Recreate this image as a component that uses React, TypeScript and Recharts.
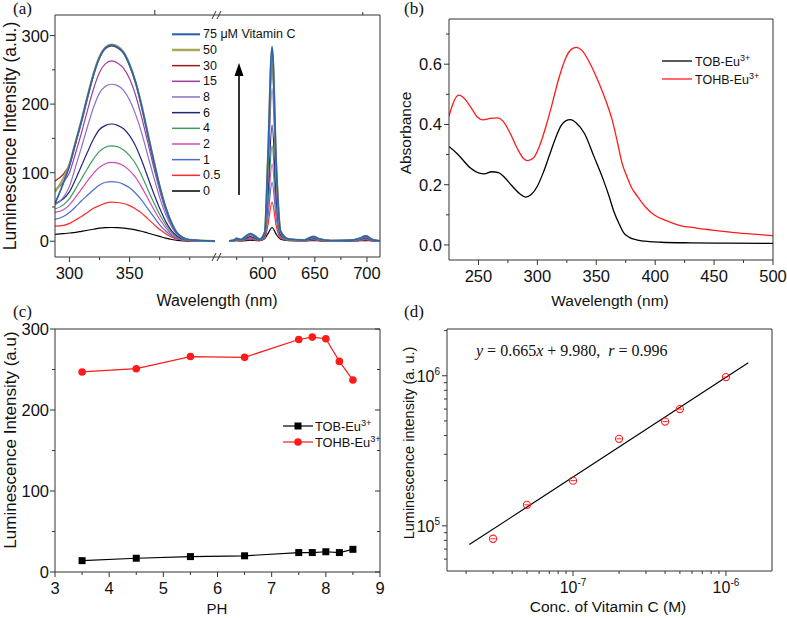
import React from 'react';
import { LineChart, ComposedChart, Line, Scatter, XAxis, YAxis } from 'recharts';

const SANS = '"Liberation Sans", Arial, Helvetica, sans-serif';
const SERIF = '"Liberation Serif", "Times New Roman", serif';
const AXIS = '#333';
const INK = '#111';

// ---------- (a) luminescence spectra, broken wavelength axis ----------
const A_LEFT_NM = [288, 295, 300, 305, 310, 315, 320, 325, 330, 335, 340, 345, 350, 355, 360, 365, 370, 375, 380, 385, 390, 400, 421];
const A_RIGHT_NM = [568, 572, 575, 579, 584, 588, 592, 597, 602, 605, 609, 613, 617, 625, 640, 645, 649, 653, 665, 685, 693, 699, 705, 712];

const EM_0_L = [10, 11, 12, 13, 14.5, 16, 17.5, 19, 19.8, 20, 19.8, 19.2, 18, 16.5, 14.5, 12, 9.5, 7, 4.5, 2.5, 1.2, 0.3, 0.2];
const EM_05_L = [22, 23, 26, 31, 36, 42, 48, 52, 55.5, 57, 56.5, 55, 52, 47, 41, 33, 25, 17, 11, 6, 3, 0.7, 0.3];
const EM_1_L = [32, 36, 42, 50, 59, 67, 75, 82, 86, 87, 86, 83, 78, 70, 60, 48, 36, 24, 15, 8, 3.5, 0.8, 0.3];
const EM_2_L = [42, 46, 53, 64, 76, 88, 99, 108, 113, 115, 114, 110, 103, 93, 79, 63, 47, 32, 20, 10, 4.6, 1, 0.3];
const EM_4_L = [47, 53, 62, 76, 91, 106, 120, 131, 137, 139, 138, 133, 125, 113, 96, 76, 57, 39, 24, 12.5, 5.5, 1.1, 0.3];
const EM_6_L = [55, 62, 72, 90, 110, 130, 149, 163, 169, 171, 169, 164, 154, 139, 118, 94, 70, 48, 29, 15, 7, 1.4, 0.3];
const EM_8_L = [53, 64, 80, 108, 137, 167, 195, 216, 226, 229, 227, 220, 206, 185, 158, 126, 94, 64, 39, 21, 9, 1.8, 0.3];
const EM_15_L = [75, 86, 100, 128, 158, 191, 222, 246, 259, 263, 260, 252, 237, 213, 181, 145, 108, 74, 45, 24, 10, 2, 0.3];
const EM_30_L = [88, 98, 112, 142, 174, 209, 242, 267, 281, 285, 282, 274, 256, 231, 197, 157, 117, 80, 48, 26, 11, 2, 0.3];
const EM_50_L = [72, 92, 112, 144, 176, 211, 244, 269, 283, 287, 284, 276, 258, 232, 198, 158, 118, 80, 49, 26, 11, 2, 0.3];
const EM_75_L = [55, 85, 110, 143, 175, 210, 243, 268, 282, 286, 283, 275, 257, 232, 197, 157, 117, 80, 49, 26, 11, 2, 0.3];

const EM_0_R = [0.3, 0.5, 0.7, 0.5, 1, 1.7, 1.1, 0.8, 4, 11, 20, 10, 3, 1, 0.5, 0.8, 0.9, 0.7, 0.3, 0.4, 0.7, 1, 0.5, 0.3];
const EM_05_R = [0.3, 0.6, 1.2, 0.8, 1.9, 3, 2, 1, 4.3, 24, 57, 22, 4, 1.2, 0.6, 1.4, 1.8, 1.2, 0.4, 0.6, 1.2, 2, 0.8, 0.3];
const EM_1_R = [0.3, 0.7, 1.5, 1, 2.6, 4, 2.8, 1.3, 5.4, 36, 86, 34, 5.3, 1.5, 0.8, 1.9, 2.4, 1.6, 0.5, 0.7, 1.6, 2.7, 1, 0.3];
const EM_2_R = [0.4, 0.8, 1.9, 1.2, 3.2, 5, 3.5, 1.5, 6.5, 47, 113, 44, 6.6, 1.8, 0.9, 2.3, 3, 1.9, 0.6, 0.8, 2, 3.3, 1.2, 0.4];
const EM_4_R = [0.4, 0.9, 2.2, 1.4, 3.8, 5.9, 4.2, 1.8, 7.6, 58, 139, 54, 8, 2, 1, 2.7, 3.6, 2.3, 0.7, 0.9, 2.3, 4, 1.4, 0.4];
const EM_6_R = [0.4, 1, 2.5, 1.6, 4.5, 6.9, 5, 2, 8.8, 71, 169, 66, 9.5, 2.3, 1.1, 3.2, 4.2, 2.7, 0.8, 1, 2.7, 4.7, 1.6, 0.4];
const EM_8_R = [0.5, 1.1, 3.2, 2, 5.8, 8.8, 6.5, 2.5, 11, 94, 223, 87, 12, 2.7, 1.3, 4, 5.4, 3.3, 0.9, 1.2, 3.4, 6, 2, 0.5];
const EM_15_R = [0.5, 1.2, 3.6, 2.2, 6.8, 10, 7.6, 2.8, 12.5, 110, 262, 102, 14, 3, 1.5, 4.7, 6.3, 3.8, 1, 1.3, 3.9, 7, 2.3, 0.5];
const EM_30_R = [0.5, 1.2, 3.6, 2.2, 6.9, 10.2, 7.7, 2.8, 12.6, 111, 265, 103, 14, 3, 1.5, 4.7, 6.3, 3.8, 1, 1.3, 3.9, 7.1, 2.3, 0.5];
const EM_50_R = [0.5, 1.2, 3.9, 2.3, 7.2, 10.8, 8.1, 3, 13.2, 118, 280, 109, 15, 3, 1.5, 5, 6.7, 4, 1, 1.4, 4.1, 7.5, 2.4, 0.5];
const EM_75_R = [0.5, 1.2, 4, 2.3, 7.3, 11, 8.2, 3, 13.4, 120, 284, 110, 15.2, 3, 1.5, 5, 6.8, 4, 1, 1.4, 4.2, 7.6, 2.4, 0.5];

const CONC_LABELS = ['0', '0.5', '1', '2', '4', '6', '8', '15', '30', '50', '75'];
const CONC_COLORS = ['#000000', '#ff2a2a', '#4a6fd0', '#d04cb4', '#3c9e5e', '#24247a', '#8a6fc4', '#a03ca0', '#9b1b1b', '#a8a85a', '#2e64ac'];
const CONC_WIDTHS = [1.2, 1.2, 1.2, 1.2, 1.2, 1.2, 1.2, 1.2, 1.2, 2.2, 1.8];
const EM_LEFT = [EM_0_L, EM_05_L, EM_1_L, EM_2_L, EM_4_L, EM_6_L, EM_8_L, EM_15_L, EM_30_L, EM_50_L, EM_75_L];
const EM_RIGHT = [EM_0_R, EM_05_R, EM_1_R, EM_2_R, EM_4_R, EM_6_R, EM_8_R, EM_15_R, EM_30_R, EM_50_R, EM_75_R];

const A_X_MAJOR = [300, 350, 600, 650, 700];
const A_X_MINOR = [325, 375, 400, 575, 625, 675];
const A_Y_MAJOR = [0, 100, 200, 300];
const A_Y_TICKS = [0, 50, 100, 150, 200, 250, 300];

// broken axis: two wavelength windows glued side by side
const SEG_L = [288, 421];
const SEG_R = [560, 712.5];
const W_L = 160;
const GAP = 6;
const W_R = 159;
const A_SPAN = W_L + GAP + W_R;
const toPos = (nm: number) =>
  nm <= SEG_L[1]
    ? ((nm - SEG_L[0]) / (SEG_L[1] - SEG_L[0])) * W_L
    : W_L + GAP + ((nm - SEG_R[0]) / (SEG_R[1] - SEG_R[0])) * W_R;
const fromPos = (p: number) =>
  p <= W_L
    ? SEG_L[0] + (p / W_L) * (SEG_L[1] - SEG_L[0])
    : SEG_R[0] + ((p - W_L - GAP) / W_R) * (SEG_R[1] - SEG_R[0]);

const rowFrom = (pos: number, pick: (s: number) => number | null) => {
  const r: Record<string, number | null> = { pos };
  CONC_LABELS.forEach((_, k) => (r['c' + k] = pick(k)));
  return r;
};
const aRows = [
  ...A_LEFT_NM.map((nm, i) => rowFrom(toPos(nm), (k) => EM_LEFT[k][i])),
  rowFrom(W_L + GAP / 2, () => null),
  ...A_RIGHT_NM.map((nm, i) => rowFrom(toPos(nm), (k) => EM_RIGHT[k][i])),
];

// ---------- (b) absorbance ----------
const TOB_NM = [225, 232, 243, 250, 255, 261, 267, 272, 278, 285, 290, 295, 300, 305, 310, 315, 320, 324, 328, 333, 340, 348, 356, 361, 365, 370, 373, 378, 385, 395, 405, 430, 460, 500];
const TOB_ABS = [0.327, 0.303, 0.256, 0.239, 0.236, 0.243, 0.24, 0.225, 0.198, 0.17, 0.159, 0.168, 0.195, 0.24, 0.295, 0.35, 0.395, 0.412, 0.416, 0.405, 0.37, 0.294, 0.216, 0.16, 0.11, 0.065, 0.042, 0.025, 0.016, 0.011, 0.009, 0.007, 0.006, 0.005];
const TOHB_NM = [225, 229, 233, 237, 243, 249, 254, 260, 266, 271, 277, 283, 288, 292, 297, 302, 307, 312, 318, 324, 329, 333, 338, 345, 352, 358, 363.5, 368, 372, 376, 380, 385, 392, 399, 410, 419, 435, 447, 470, 489, 500];
const TOHB_ABS = [0.427, 0.475, 0.497, 0.49, 0.46, 0.425, 0.415, 0.42, 0.422, 0.41, 0.37, 0.32, 0.288, 0.28, 0.29, 0.33, 0.39, 0.46, 0.55, 0.62, 0.65, 0.656, 0.645, 0.6, 0.54, 0.48, 0.415, 0.34, 0.27, 0.227, 0.19, 0.161, 0.125, 0.1, 0.08, 0.067, 0.056, 0.05, 0.04, 0.034, 0.031];
const B_X_TICKS = [250, 275, 300, 325, 350, 375, 400, 425, 450, 475, 500];
const B_X_MAJOR = [250, 300, 350, 400, 450, 500];
const B_Y_TICKS = [0, 0.1, 0.2, 0.3, 0.4, 0.5, 0.6, 0.7];
const B_Y_MAJOR = [0, 0.2, 0.4, 0.6];

const tobRows = TOB_NM.map((nm, i) => ({ nm, a: TOB_ABS[i] }));
const tohbRows = TOHB_NM.map((nm, i) => ({ nm, a: TOHB_ABS[i] }));

// ---------- (c) pH dependence ----------
const PH = [3.5, 4.5, 5.5, 6.5, 7.5, 7.75, 8, 8.25, 8.5];
const TOB_LUM = [14, 17, 19, 20, 24, 24, 25, 24, 28];
const TOHB_LUM = [247, 251, 266, 265, 287, 290, 288, 260, 237];
const C_X_TICKS = [3, 3.5, 4, 4.5, 5, 5.5, 6, 6.5, 7, 7.5, 8, 8.5, 9];
const C_X_MAJOR = [3, 4, 5, 6, 7, 8, 9];
const C_Y_TICKS = [0, 50, 100, 150, 200, 250, 300];
const C_Y_MAJOR = [0, 100, 200, 300];
const phRows = PH.map((ph, i) => ({ ph, tob: TOB_LUM[i], tohb: TOHB_LUM[i] }));

// ---------- (d) calibration, log-log ----------
const VC_CONC = [3e-8, 5e-8, 1e-7, 2e-7, 4e-7, 5e-7, 1e-6];
const VC_LUM = [8.2e4, 1.38e5, 2.0e5, 3.8e5, 4.95e5, 6.0e5, 9.8e5];
const FIT_CONC = [2.1e-8, 1.4e-6];
const FIT_LUM = [7.5e4, 1.22e6];
const D_X_TICKS = [2e-8, 3e-8, 4e-8, 5e-8, 6e-8, 7e-8, 8e-8, 9e-8, 1e-7, 2e-7, 3e-7, 4e-7, 5e-7, 6e-7, 7e-7, 8e-7, 9e-7, 1e-6];
const D_X_MAJOR = [1e-7, 1e-6];
const D_Y_TICKS = [6e4, 7e4, 8e4, 9e4, 1e5, 2e5, 3e5, 4e5, 5e5, 6e5, 7e5, 8e5, 9e5, 1e6, 2e6];
const D_Y_MAJOR = [1e5, 1e6];
const vcRows = VC_CONC.map((c, i) => ({ c, i: VC_LUM[i] }));
const fitRows = FIT_CONC.map((c, i) => ({ c, i: FIT_LUM[i] }));

// ---------- tick helper: major/minor ticks with labels ----------
type Side = 'bottom' | 'top' | 'left' | 'right';
function ticker(
  side: Side,
  majors: number[],
  opts: { fmt?: (v: number) => React.ReactNode; inward?: boolean; font?: number; gap?: number } = {},
) {
  const { fmt, inward = false, font = 16.5, gap } = opts;
  return (p: any) => {
    const { x, y, payload } = p;
    const v = payload.value as number;
    const major = majors.some((m) => Math.abs(m - v) <= Math.max(Math.abs(m), Math.abs(v)) * 1e-6);
    const len = major ? 5 : 3;
    const d = inward ? -1 : 1;
    let x2 = x;
    let y2 = y;
    if (side === 'bottom') y2 = y + d * len;
    if (side === 'top') y2 = y - d * len;
    if (side === 'left') x2 = x - d * len;
    if (side === 'right') x2 = x + d * len;
    let label: React.ReactNode = null;
    if (major && fmt) {
      const t = { fontFamily: SANS, fontSize: font, fill: INK };
      if (side === 'bottom')
        label = (
          <text x={x} y={y + (gap ?? 22)} textAnchor="middle" {...t}>
            {fmt(v)}
          </text>
        );
      if (side === 'left')
        label = (
          <text x={x - (gap ?? 6)} y={y + 6} textAnchor="end" {...t}>
            {fmt(v)}
          </text>
        );
    }
    return (
      <g>
        <line x1={x} y1={y} x2={x2} y2={y2} stroke={AXIS} strokeWidth={1} />
        {label}
      </g>
    );
  };
}

const pow10 = (v: number) => (
  <>
    10
    <tspan dy={-7} fontSize={10}>
      {Math.round(Math.log10(v))}
    </tspan>
  </>
);

// axes get 1px of room (a 0-sized axis is not drawn); margins absorb it
const axisBase = {
  type: 'number' as const,
  allowDataOverflow: true,
  interval: 0 as const,
  tickSize: 0,
  tickMargin: 0,
  tickLine: false,
  axisLine: { stroke: AXIS, strokeWidth: 1 },
};

const sup = (base: string, s: string, fs: number) => (
  <>
    {base}
    <tspan dy={-5} fontSize={fs * 0.72}>
      {s}
    </tspan>
  </>
);

export default function App() {
  const aMajorPos = A_X_MAJOR.map(toPos);
  const aTicks = [...A_X_MAJOR, ...A_X_MINOR].map(toPos).sort((m, n) => m - n);
  const legendTop = 34.3;
  const legendStep = 15.67;
  const legendOrder = [...CONC_LABELS.keys()].reverse();

  return (
    <div style={{ position: 'absolute', left: 0, top: 0, width: 787, height: 618, background: '#fff' }}>
      {/* (a) */}
      <div style={{ position: 'absolute', left: 0, top: 0 }}>
        <LineChart width={393} height={300} data={aRows} margin={{ top: 14, right: 12, bottom: 42, left: 54 }}>
          <XAxis
            {...axisBase}
            dataKey="pos"
            domain={[0, A_SPAN]}
            ticks={aTicks}
            height={1}
            tick={ticker('bottom', aMajorPos, { fmt: (v) => Math.round(fromPos(v)) })}
          />
          <XAxis
            {...axisBase}
            xAxisId="top"
            orientation="top"
            domain={[0, A_SPAN]}
            ticks={aTicks}
            height={1}
            tick={ticker('top', aMajorPos)}
          />
          <YAxis {...axisBase} domain={[-23, 330]} ticks={A_Y_TICKS} width={1} tick={ticker('left', A_Y_MAJOR, { fmt: (v) => v })} />
          <YAxis {...axisBase} yAxisId="right" orientation="right" domain={[-23, 330]} width={1} tick={false} />
          {CONC_LABELS.map((lab, k) => (
            <Line
              key={lab}
              type="monotone"
              dataKey={'c' + k}
              stroke={CONC_COLORS[k]}
              strokeWidth={CONC_WIDTHS[k]}
              dot={false}
              connectNulls={false}
              isAnimationActive={false}
            />
          ))}
        </LineChart>
      </div>

      {/* (b) */}
      <div style={{ position: 'absolute', left: 393, top: 0 }}>
        <LineChart width={394} height={300} margin={{ top: 18, right: 13, bottom: 39, left: 55 }}>
          <XAxis
            {...axisBase}
            dataKey="nm"
            domain={[225, 500]}
            ticks={B_X_TICKS}
            height={1}
            tick={ticker('bottom', B_X_MAJOR, { fmt: (v) => v })}
          />
          <XAxis {...axisBase} xAxisId="top" orientation="top" domain={[225, 500]} height={1} tick={false} />
          <YAxis
            {...axisBase}
            domain={[-0.05, 0.75]}
            ticks={B_Y_TICKS}
            width={1}
            tick={ticker('left', B_Y_MAJOR, { fmt: (v) => v.toFixed(1), gap: 7 })}
          />
          <YAxis {...axisBase} yAxisId="right" orientation="right" domain={[-0.05, 0.75]} width={1} tick={false} />
          <Line data={tobRows} type="monotone" dataKey="a" stroke="#000" strokeWidth={1.3} dot={false} isAnimationActive={false} />
          <Line data={tohbRows} type="monotone" dataKey="a" stroke="#ff1a1a" strokeWidth={1.3} dot={false} isAnimationActive={false} />
        </LineChart>
      </div>

      {/* (c) */}
      <div style={{ position: 'absolute', left: 0, top: 300 }}>
        <LineChart width={393} height={318} data={phRows} margin={{ top: 28, right: 12, bottom: 45, left: 54 }}>
          <XAxis
            {...axisBase}
            dataKey="ph"
            domain={[3, 9]}
            ticks={C_X_TICKS}
            height={1}
            tick={ticker('bottom', C_X_MAJOR, { fmt: (v) => v })}
          />
          <XAxis {...axisBase} xAxisId="top" orientation="top" domain={[3, 9]} height={1} tick={false} />
          <YAxis {...axisBase} domain={[0, 300]} ticks={C_Y_TICKS} width={1} tick={ticker('left', C_Y_MAJOR, { fmt: (v) => v })} />
          <YAxis
            {...axisBase}
            yAxisId="right"
            orientation="right"
            domain={[0, 300]}
            ticks={C_Y_TICKS}
            width={1}
            tick={ticker('right', C_Y_MAJOR, { inward: true })}
          />
          <Line
            type="linear"
            dataKey="tob"
            stroke="#000"
            strokeWidth={1.2}
            isAnimationActive={false}
            dot={(p: any) => <rect key={p.index} x={p.cx - 3.5} y={p.cy - 3.5} width={7} height={7} fill="#000" />}
          />
          <Line
            type="linear"
            dataKey="tohb"
            stroke="#ff1a1a"
            strokeWidth={1.2}
            isAnimationActive={false}
            dot={(p: any) => <circle key={p.index} cx={p.cx} cy={p.cy} r={3.8} fill="#ff1a1a" />}
          />
        </LineChart>
      </div>

      {/* (d) */}
      <div style={{ position: 'absolute', left: 393, top: 300 }}>
        <ComposedChart width={394} height={318} margin={{ top: 28, right: 14, bottom: 46, left: 53 }}>
          <XAxis
            {...axisBase}
            dataKey="c"
            scale="log"
            domain={[1.5e-8, 2e-6]}
            ticks={D_X_TICKS}
            height={1}
            tick={ticker('bottom', D_X_MAJOR, { fmt: pow10, gap: 22, font: 16 })}
          />
          <XAxis {...axisBase} xAxisId="top" orientation="top" scale="log" domain={[1.5e-8, 2e-6]} height={1} tick={false} />
          <YAxis
            {...axisBase}
            scale="log"
            domain={[5e4, 2.05e6]}
            ticks={D_Y_TICKS}
            width={1}
            tick={ticker('left', D_Y_MAJOR, { fmt: pow10, gap: 7, font: 16 })}
          />
          <YAxis {...axisBase} yAxisId="right" orientation="right" scale="log" domain={[5e4, 2.05e6]} width={1} tick={false} />
          <Line data={fitRows} type="linear" dataKey="i" stroke="#000" strokeWidth={1.2} dot={false} isAnimationActive={false} />
          <Scatter
            data={vcRows}
            dataKey="i"
            isAnimationActive={false}
            shape={(p: any) => (
              <g>
                <circle cx={p.cx} cy={p.cy} r={3.6} fill="none" stroke="#ff2020" strokeWidth={1.1} />
                <line x1={p.cx - 2.5} y1={p.cy} x2={p.cx + 2.5} y2={p.cy} stroke="#ff2020" strokeWidth={1} />
              </g>
            )}
          />
        </ComposedChart>
      </div>

      {/* annotations: panel letters, titles, legends */}
      <svg width={787} height={618} style={{ position: 'absolute', left: 0, top: 0, pointerEvents: 'none' }}>
        <g fontFamily={SERIF} fontSize={17} fill={INK}>
          <text x={13} y={14}>(a)</text>
          <text x={404} y={14}>(b)</text>
          <text x={13} y={317}>(c)</text>
          <text x={404} y={317}>(d)</text>
        </g>

        <g fontFamily={SANS} fill={INK} textAnchor="middle" dominantBaseline="central">
          <text transform="translate(10,136) rotate(-90)" fontSize={17.5}>Luminescence Intensity (a.u.)</text>
          <text x={217} y={300} fontSize={16}>Wavelength (nm)</text>
          <text transform="translate(405,133) rotate(-90)" fontSize={15.5}>Absorbance</text>
          <text x={610} y={300} fontSize={15.5}>Wavelength (nm)</text>
          <text transform="translate(10,440) rotate(-90)" fontSize={17}>Luminescence Intensity (a.u)</text>
          <text x={217} y={608} fontSize={15}>PH</text>
          <text transform="translate(409,443) rotate(-90)" fontSize={14.5}>Luminescence intensity (a. u.)</text>
          <text x={608} y={606} fontSize={15.5}>Conc. of Vitamin C (M)</text>
        </g>

        {/* (a) break marks */}
        {[257, 15].map((yy) => (
          <g key={yy} stroke={AXIS} strokeWidth={1}>
            <line x1={212} y1={yy + 4} x2={216} y2={yy - 4} />
            <line x1={217} y1={yy + 4} x2={221} y2={yy - 4} />
          </g>
        ))}

        {/* (a) legend */}
        {legendOrder.map((k, row) => {
          const yy = legendTop + row * legendStep;
          return (
            <g key={k}>
              <line x1={172} y1={yy} x2={200} y2={yy} stroke={CONC_COLORS[k]} strokeWidth={CONC_WIDTHS[k] + 0.3} />
              <text x={203} y={yy} dominantBaseline="central" fontFamily={SANS} fontSize={12.5} fill={INK}>
                {k === CONC_LABELS.length - 1 ? `${CONC_LABELS[k]} \u03bcM Vitamin C` : CONC_LABELS[k]}
              </text>
            </g>
          );
        })}
        <line x1={239} y1={195} x2={239} y2={74} stroke="#000" strokeWidth={1.6} />
        <polygon points="239,63 234.5,76 243.5,76" fill="#000" />

        {/* (b) legend */}
        <line x1={662} y1={61} x2={692} y2={61} stroke="#000" strokeWidth={1.3} />
        <line x1={662} y1={79} x2={692} y2={79} stroke="#ff1a1a" strokeWidth={1.3} />
        <g fontFamily={SANS} fontSize={12.5} fill={INK}>
          <text x={695} y={66}>{sup('TOB-Eu', '3+', 12.5)}</text>
          <text x={695} y={84}>{sup('TOHB-Eu', '3+', 12.5)}</text>
        </g>

        {/* (c) legend */}
        <line x1={283} y1={426} x2={313} y2={426} stroke="#000" strokeWidth={1.2} />
        <rect x={294.5} y={422.5} width={7} height={7} fill="#000" />
        <line x1={283} y1={442} x2={313} y2={442} stroke="#ff1a1a" strokeWidth={1.2} />
        <circle cx={298} cy={442} r={3.8} fill="#ff1a1a" />
        <g fontFamily={SANS} fontSize={12.8} fill={INK}>
          <text x={315} y={431}>{sup('TOB-Eu', '3+', 12.8)}</text>
          <text x={315} y={447}>{sup('TOHB-Eu', '3+', 12.8)}</text>
        </g>

        {/* (d) fit equation */}
        <text x={476} y={356} fontFamily={SERIF} fontSize={16} fill={INK} xmlSpace="preserve">
          <tspan fontStyle="italic">y</tspan>
          {' = 0.665'}
          <tspan fontStyle="italic">x</tspan>
          {' + 9.980,  '}
          <tspan fontStyle="italic">r</tspan>
          {' = 0.996'}
        </text>
      </svg>
    </div>
  );
}
